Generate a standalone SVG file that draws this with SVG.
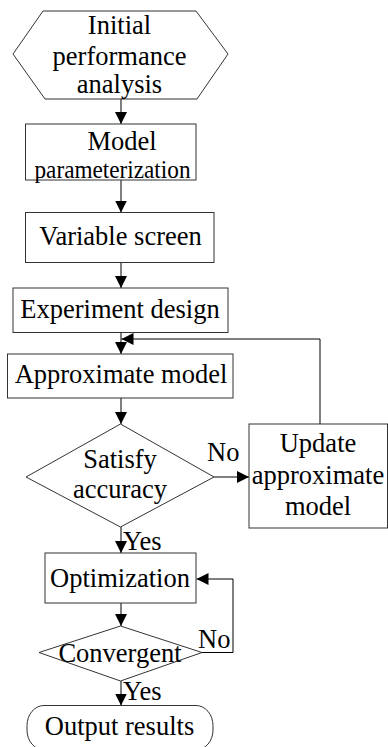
<svg xmlns="http://www.w3.org/2000/svg" width="388" height="747" viewBox="0 0 388 747">
<defs>
<marker id="ah" viewBox="0 0 12 12" refX="12" refY="6" markerWidth="12" markerHeight="12" markerUnits="userSpaceOnUse" orient="auto">
<path d="M0,0 L12,6 L0,12 Z" fill="#000"/>
</marker>
<style>
.s{fill:#fff;stroke:#333;stroke-width:1}
.t{font-family:"Liberation Serif","Times New Roman","DejaVu Serif",serif;font-size:26.5px;fill:#000;text-anchor:middle}
.l{font-family:"Liberation Serif","Times New Roman","DejaVu Serif",serif;font-size:26.5px;fill:#000}
.c{fill:none;stroke:#000;stroke-width:1;marker-end:url(#ah)}
</style>
</defs>
<rect width="388" height="747" fill="#fff"/>
<g id="connectors">
<path class="c" d="M121,99 V124"/>
<path class="c" d="M121,180 V212.5"/>
<path class="c" d="M121,262.5 V288"/>
<path class="c" d="M121,332.5 V354"/>
<path class="c" d="M320,424 V339 H121.5"/>
<path class="c" d="M121,398 V424"/>
<path class="c" d="M214,477 H249"/>
<path class="c" d="M121,527 V553"/>
<path class="c" d="M121,603 V626"/>
<path class="c" d="M202,652.5 H233 V579 H196.5"/>
<path class="c" d="M121,681 V705.5"/>
</g>
<g id="n_initial">
<polygon class="s" points="43,11 196,11 228,54 197,99 45,99 13,54"/>
<text class="t" x="119.5" y="34">Initial</text>
<text class="t" x="119.5" y="65">performance</text>
<text class="t" x="119.5" y="93">analysis</text>
</g>
<g id="n_param">
<rect class="s" x="25.5" y="124" width="170.5" height="56"/>
<text class="t" x="122" y="150">Model</text>
<text class="t" x="112.5" y="177.5" style="font-size:25px" textLength="156" lengthAdjust="spacingAndGlyphs">parameterization</text>
</g>
<g id="n_screen">
<rect class="s" x="25.5" y="212.5" width="188.5" height="50"/>
<text class="t" x="120.5" y="245">Variable screen</text>
</g>
<g id="n_doe">
<rect class="s" x="13" y="288" width="215" height="44.5"/>
<text class="t" x="120" y="318">Experiment design</text>
</g>
<g id="n_approx">
<rect class="s" x="7.5" y="354" width="225.5" height="44"/>
<text class="t" x="121" y="383">Approximate model</text>
</g>
<g id="n_satisfy">
<polygon class="s" points="120.5,424 214,477 120.5,527 26,477"/>
<text class="t" x="120" y="468">Satisfy</text>
<text class="t" x="120" y="498">accuracy</text>
</g>
<g id="n_update">
<rect class="s" x="249" y="424" width="138.5" height="104"/>
<text class="t" x="318" y="452">Update</text>
<text class="t" x="318" y="484">approximate</text>
<text class="t" x="318" y="515">model</text>
</g>
<g id="n_opt">
<rect class="s" x="45" y="553" width="151" height="50"/>
<text class="t" x="120" y="587">Optimization</text>
</g>
<g id="n_conv">
<polygon class="s" points="120.5,626 202,652.5 120.5,681 39,652.5"/>
<text class="t" x="120" y="662">Convergent</text>
</g>
<g id="n_output">
<rect class="s" x="27" y="705.5" width="186" height="44.5" rx="17" ry="20"/>
<text class="t" x="119.5" y="735">Output results</text>
</g>
<g id="labels">
<text class="l" x="207" y="461">No</text>
<text class="l" x="198" y="647.5">No</text>
<text class="l" x="123" y="549.5">Yes</text>
<text class="l" x="123" y="700">Yes</text>
</g>
</svg>
